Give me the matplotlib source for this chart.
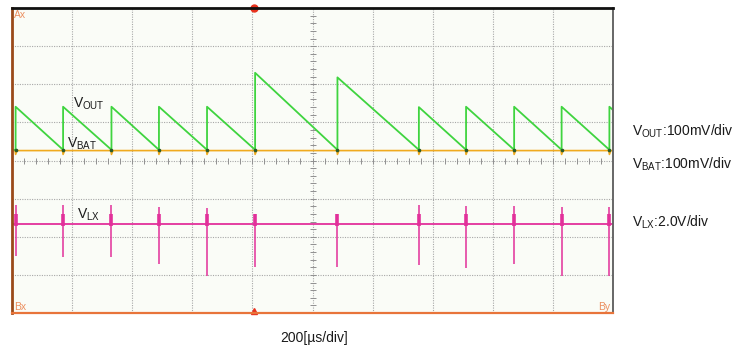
import numpy as np
import matplotlib.pyplot as plt

plt.rcParams["font.family"] = ["Liberation Sans", "DejaVu Sans"]
plt.rcParams["mathtext.fontset"] = "custom"
plt.rcParams["mathtext.rm"] = "Liberation Sans"
plt.rcParams["mathtext.it"] = "Liberation Sans"

# switching instants (us) and what each pulse does to the traces
t_switch = [12, 170, 331, 489, 649, 809, 1083, 1354, 1511, 1671, 1829, 1988]
vout_jump_mv = [113, 113, 113, 113, 113, 202, 190, 112, 113, 113, 113, 113]
vlx_peak_v = [1.0, 1.0, 1.0, 0.9, 0.85, 0.2, 0.25, 1.0, 0.95, 0.95, 0.9, 0.9]
vlx_dip_v = [-1.7, -1.75, -1.75, -2.1, -2.75, -2.25, -2.25, -2.15, -2.3, -2.1, -2.75, -2.75]
vbat_dip_mv = 10
trigger_us = 805

# scope settings: time base and channel offsets (in divisions)
time_div = 200
vout_scale, vbat_scale, vlx_scale = 100.0, 100.0, 2.0
vout_pos, vbat_pos, vlx_pos = 4.28, 4.26, 2.34

GREEN = "#3fd43f"
ORANGE = "#f0aa1e"
MAGENTA = "#e2309a"
GRID = "#a8a8a8"

fig = plt.figure(figsize=(7.35, 3.47), dpi=100)
ax = fig.add_axes([12 / 735, 1 - 313 / 347, 601 / 735, 305 / 347])
ax.set_xlim(0, 10 * time_div)
ax.set_ylim(0, 8)
ax.set_facecolor("#fafcf7")

# graticule
ax.set_xticks(np.arange(0, 10 * time_div + 1, time_div))
ax.set_yticks(np.arange(0, 9))
ax.grid(True, color=GRID, linestyle=(0, (1, 1.2)), linewidth=0.8)
ax.tick_params(length=0, labelbottom=False, labelleft=False)
ax.plot(np.arange(0, 10 * time_div, time_div / 5), np.full(50, 4.0),
        linestyle="none", marker="|", markersize=4, color="#909090", mew=0.7)
ax.plot(np.full(40, 5 * time_div), np.arange(0, 8, 0.2),
        linestyle="none", marker="_", markersize=4, color="#909090", mew=0.7)

for side, col, lw in [("top", "#111111", 2.0), ("left", "#9a4a1a", 2.0),
                      ("bottom", "#e8743a", 1.6), ("right", "#666666", 1.4)]:
    ax.spines[side].set_color(col)
    ax.spines[side].set_linewidth(lw)

# V_BAT: flat with a small dip at every switching edge
bx, by = [0], [vbat_pos]
for t in t_switch:
    bx += [t - 2, t, t + 5]
    by += [vbat_pos, vbat_pos - vbat_dip_mv / vbat_scale, vbat_pos]
bx.append(10 * time_div)
by.append(vbat_pos)
ax.plot(bx, by, color=ORANGE, lw=1.2)

# V_OUT: jumps at each edge, then ramps back down to the rail
gx, gy = [0], [vout_pos]
for i, t in enumerate(t_switch):
    top = vout_pos + vout_jump_mv[i] / vout_scale
    gx += [t, t]
    gy += [vout_pos, top]
    if i + 1 < len(t_switch):
        gx.append(t_switch[i + 1])
        gy.append(vout_pos)
    else:
        slope = (vout_jump_mv[i - 1] / vout_scale) / (t - t_switch[i - 1])
        gx.append(10 * time_div)
        gy.append(top - slope * (10 * time_div - t))
ax.plot(gx, gy, color=GREEN, lw=1.3)
ax.plot(t_switch, np.full(len(t_switch), vout_pos), linestyle="none",
        marker="o", markersize=1.6, color="#2a5a2a")

# V_LX: switch node spikes
ax.axhline(vlx_pos, color=MAGENTA, lw=1.3)
lo = [vlx_pos + v / vlx_scale for v in vlx_dip_v]
hi = [vlx_pos + v / vlx_scale for v in vlx_peak_v]
ax.vlines(t_switch, lo, hi, color=MAGENTA, lw=1.1)
ax.vlines(t_switch, vlx_pos - 0.05, vlx_pos + 0.25, color=MAGENTA, lw=2.6)

# trigger markers and channel tags
ax.plot([trigger_us], [8], marker="o", markersize=5, color="#e8321e", clip_on=False)
ax.plot([trigger_us], [0.04], marker="^", markersize=5, color="#e8321e", clip_on=False)
tag = dict(color="#e8743a", fontsize=7.5, alpha=0.8)
ax.text(6, 7.95, "Ax", va="top", ha="left", **tag)
ax.text(6, 0.02, "Bx", va="bottom", ha="left", **tag)
ax.text(1992, 0.02, "By", va="bottom", ha="right", **tag)

lbl = dict(fontsize=10, color="#1a1a1a", va="center", ha="left")
ax.text(203, 5.5, r"$\mathrm{V_{OUT}}$", **lbl)
ax.text(183, 4.45, r"$\mathrm{V_{BAT}}$", **lbl)
ax.text(216, 2.57, r"$\mathrm{V_{LX}}$", **lbl)

fig.text(632 / 735, 1 - 131 / 347, r"$\mathrm{V_{OUT}}$:100mV/div", **lbl)
fig.text(632 / 735, 1 - 164 / 347, r"$\mathrm{V_{BAT}}$:100mV/div", **lbl)
fig.text(632 / 735, 1 - 222 / 347, r"$\mathrm{V_{LX}}$:2.0V/div", **lbl)
fig.text(314 / 735, 1 - 338 / 347, "200[µs/div]", fontsize=10, color="#1a1a1a",
         ha="center", va="center")

fig.savefig("out.png", dpi=100)
